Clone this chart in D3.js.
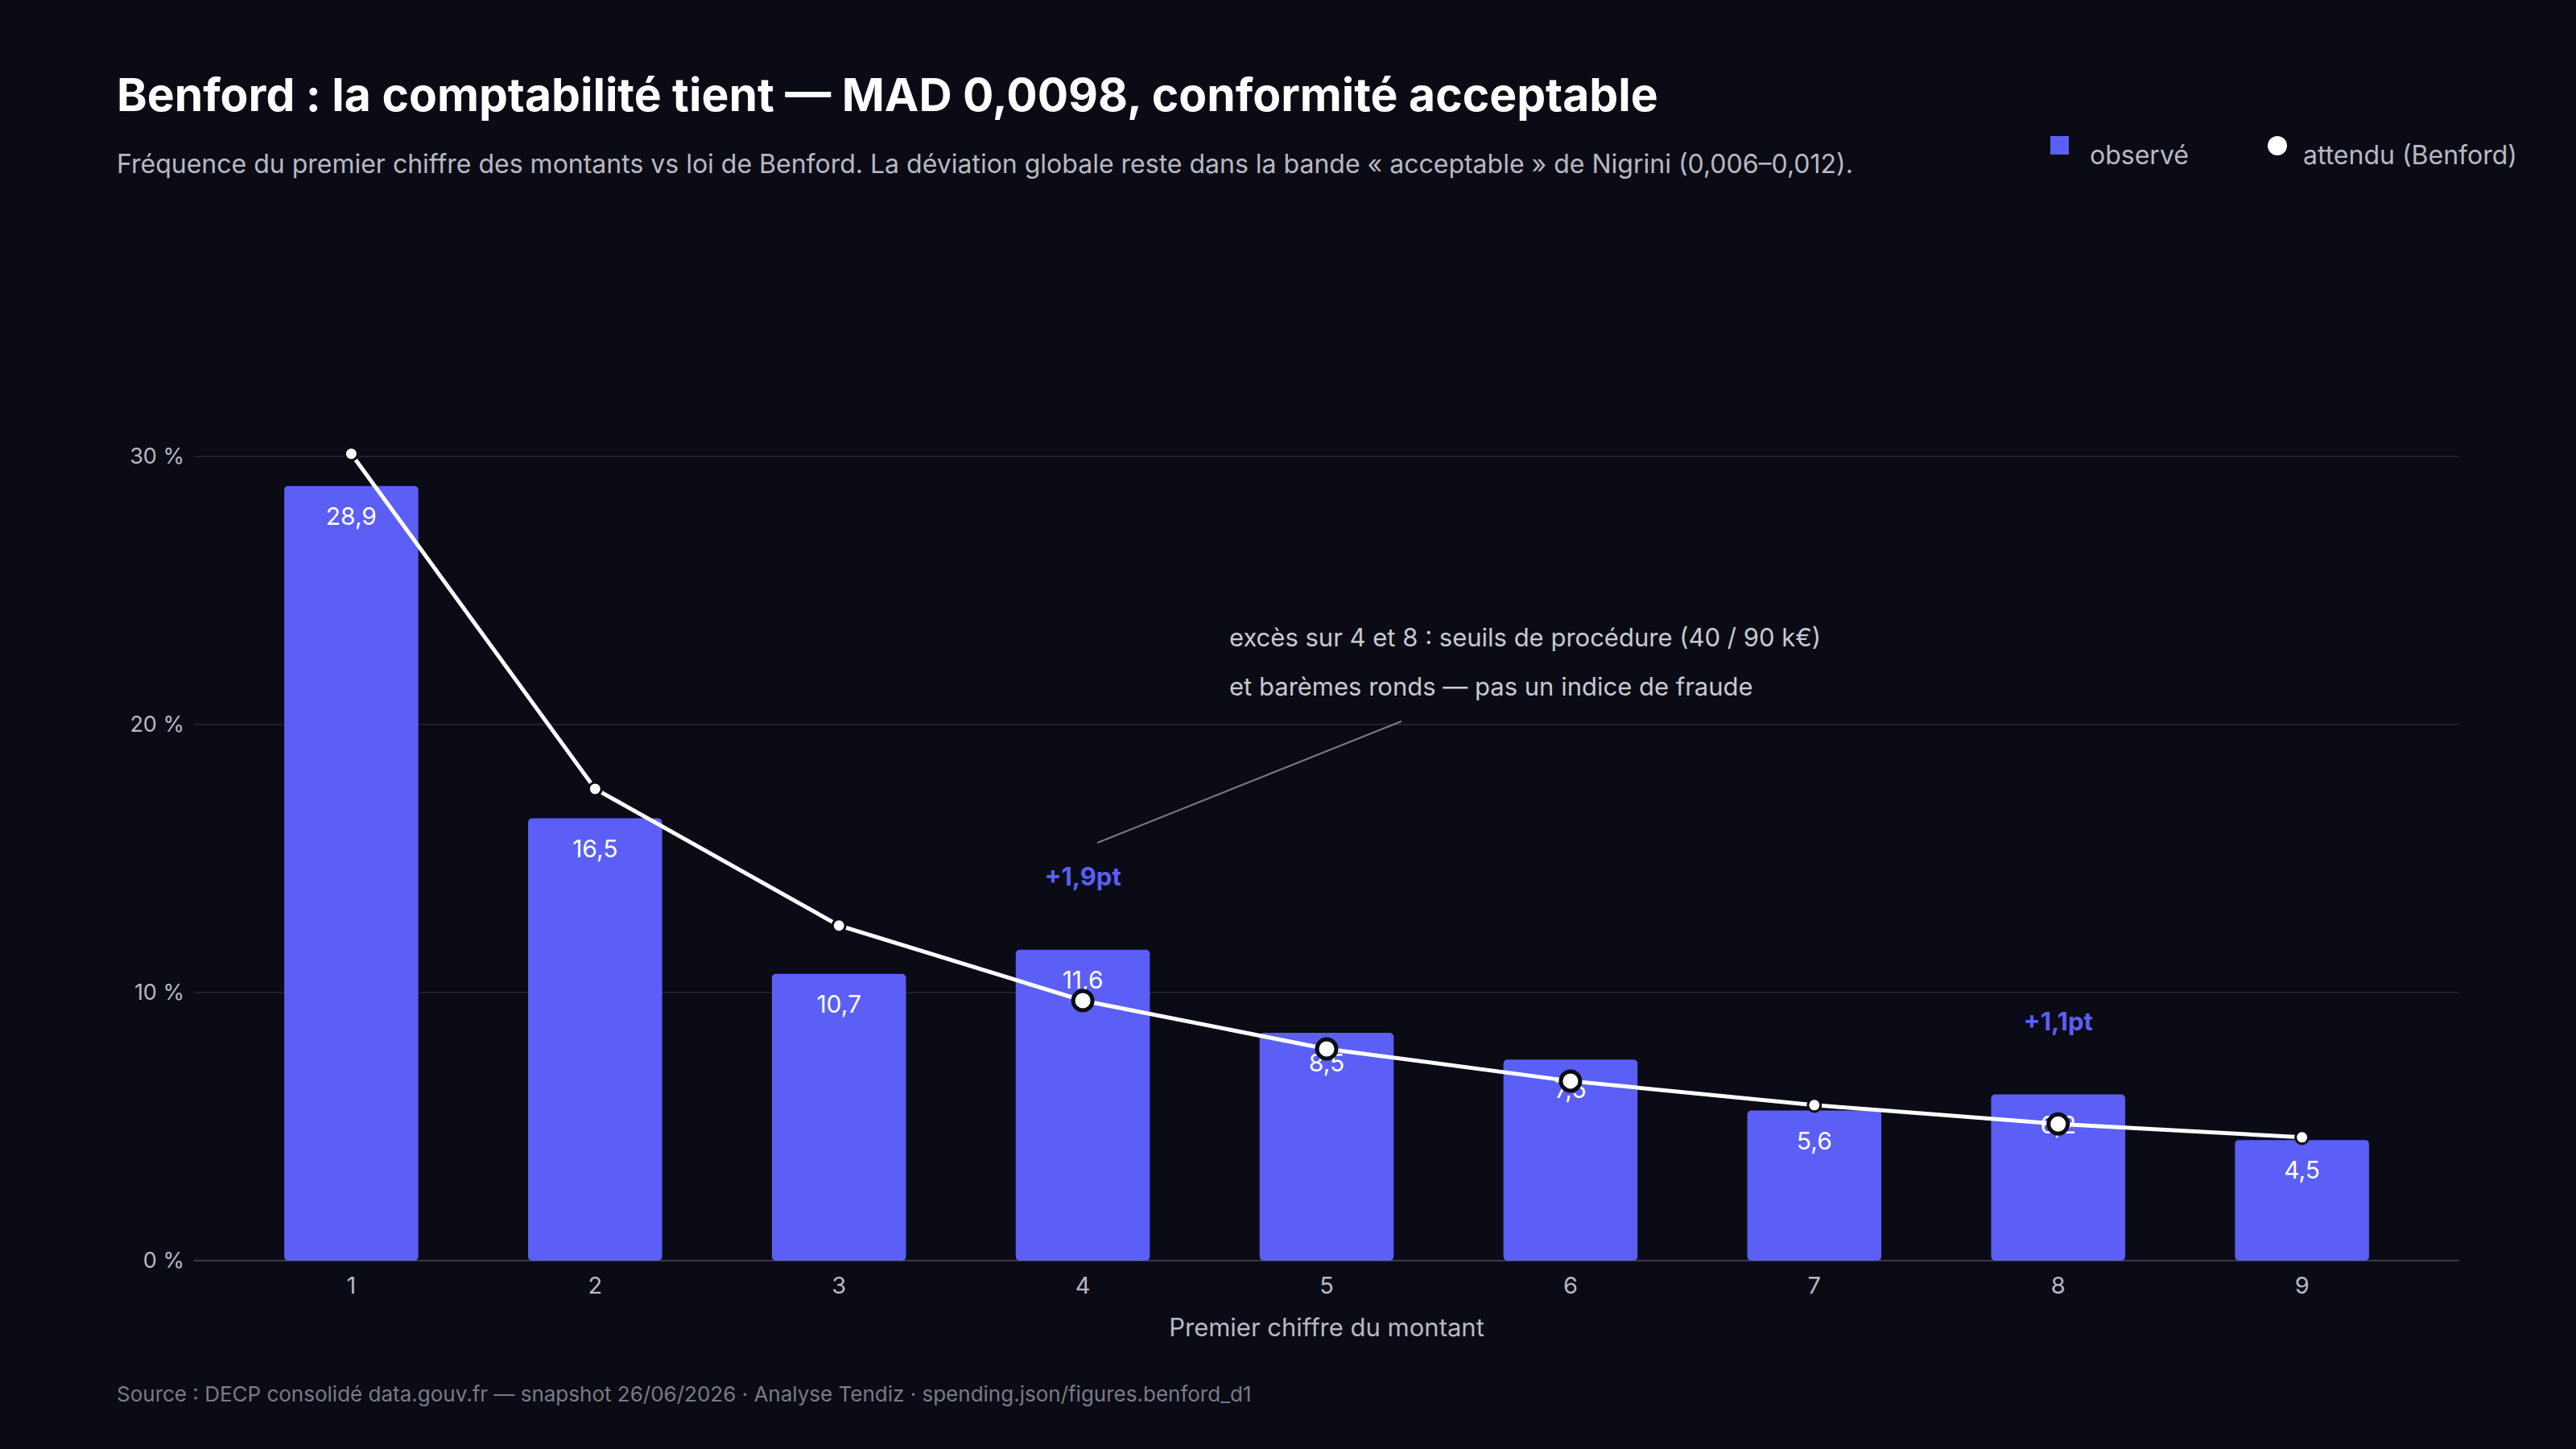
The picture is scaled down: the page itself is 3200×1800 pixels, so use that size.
<!DOCTYPE html>
<html><head><meta charset="utf-8">
<script src="https://cdn.jsdelivr.net/npm/d3@7"></script>
<style>body{margin:0;background:#0a0b14}</style>
</head><body>
<script>
var digits = ['1','2','3','4','5','6','7','8','9'];
var observed = [28.9, 16.5, 10.7, 11.6, 8.5, 7.5, 5.6, 6.2, 4.5];
var expected = [30.1, 17.6, 12.5, 9.7, 7.9, 6.7, 5.8, 5.1, 4.6];
var yTicks = [0, 10, 20, 30];
var callouts = [{digit: '4', text: '+1,9pt', at: 14}, {digit: '8', text: '+1,1pt', at: 8.6}];
var fmt = function(v){ return String(v).replace('.', ','); };

var W = 3200, H = 1800, font = 'Inter, "DejaVu Sans", sans-serif';
var svg = d3.select('body').append('svg').attr('width', W).attr('height', H)
  .style('background', '#0a0b14').style('font-family', font);

var x = d3.scaleBand().domain(digits).range([241, 3055]).paddingInner(0.45).paddingOuter(0.37);
var y = d3.scaleLinear().domain([0, 30]).range([1566, 567]);

// grid
svg.selectAll('.grid').data(yTicks).enter().append('line')
  .attr('x1', 241).attr('x2', 3055)
  .attr('y1', function(d){return y(d);}).attr('y2', function(d){return y(d);})
  .attr('stroke', function(d){return d === 0 ? '#3a3b48' : '#20212c';}).attr('stroke-width', 2);
svg.selectAll('.yl').data(yTicks).enter().append('text')
  .attr('x', 229).attr('y', function(d){return y(d) + 9;})
  .attr('text-anchor', 'end').attr('fill', '#b8b9c4').attr('font-size', 27)
  .text(function(d){return d + ' %';});

// bars
svg.selectAll('.bar').data(observed).enter().append('rect')
  .attr('x', function(d, i){return x(digits[i]);})
  .attr('y', function(d){return y(d);})
  .attr('width', x.bandwidth())
  .attr('height', function(d){return y(0) - y(d);})
  .attr('rx', 5).attr('fill', '#5b5ff5');
svg.selectAll('.bl').data(observed).enter().append('text')
  .attr('x', function(d, i){return x(digits[i]) + x.bandwidth() / 2;})
  .attr('y', function(d){return y(d) + 48;})
  .attr('text-anchor', 'middle').attr('fill', '#ffffff').attr('font-size', 30)
  .text(function(d){return fmt(d);});

// x labels
svg.selectAll('.xl').data(digits).enter().append('text')
  .attr('x', function(d){return x(d) + x.bandwidth() / 2;}).attr('y', 1607)
  .attr('text-anchor', 'middle').attr('fill', '#b8b9c4').attr('font-size', 29).text(function(d){return d;});
svg.append('text').attr('x', 1648).attr('y', 1660).attr('text-anchor', 'middle')
  .attr('fill', '#b8b9c4').attr('font-size', 31).text('Premier chiffre du montant');

// expected line
var line = d3.line().x(function(d, i){return x(digits[i]) + x.bandwidth() / 2;}).y(function(d){return y(d);});
svg.append('path').datum(expected).attr('d', line).attr('fill', 'none')
  .attr('stroke', '#ffffff').attr('stroke-width', 5);
svg.selectAll('.pt').data(expected).enter().append('circle')
  .attr('cx', function(d, i){return x(digits[i]) + x.bandwidth() / 2;})
  .attr('cy', function(d){return y(d);})
  .attr('r', function(d, i){return observed[i] > d ? 12 : 8;})
  .attr('fill', '#ffffff').attr('stroke', '#0a0b14')
  .attr('stroke-width', function(d, i){return observed[i] > d ? 5 : 3;});

// callouts
svg.selectAll('.co').data(callouts).enter().append('text')
  .attr('x', function(d){return x(d.digit) + x.bandwidth() / 2;})
  .attr('y', function(d){return y(d.at);})
  .attr('text-anchor', 'middle').attr('fill', '#5b5ff5').attr('font-size', 31).attr('font-weight', 700)
  .text(function(d){return d.text;});

// annotation
svg.append('line').attr('x1', 1741).attr('y1', 896).attr('x2', 1363).attr('y2', 1047)
  .attr('stroke', '#7a7b88').attr('stroke-width', 2);
svg.append('text').attr('x', 1527).attr('y', 803).attr('fill', '#c8c9d2').attr('font-size', 31)
  .text('excès sur 4 et 8 : seuils de procédure (40 / 90 k€)');
svg.append('text').attr('x', 1527).attr('y', 864).attr('fill', '#c8c9d2').attr('font-size', 31)
  .text('et barèmes ronds — pas un indice de fraude');

// titles
svg.append('text').attr('x', 145).attr('y', 138).attr('fill', '#ffffff').attr('font-size', 57)
  .attr('font-weight', 700).text('Benford : la comptabilité tient — MAD 0,0098, conformité acceptable');
svg.append('text').attr('x', 145).attr('y', 215).attr('fill', '#b8b9c4').attr('font-size', 32)
  .text('Fréquence du premier chiffre des montants vs loi de Benford. La déviation globale reste dans la bande « acceptable » de Nigrini (0,006–0,012).');

// legend
svg.append('rect').attr('x', 2547).attr('y', 169).attr('width', 23).attr('height', 23).attr('fill', '#5b5ff5');
svg.append('text').attr('x', 2596).attr('y', 204).attr('fill', '#b8b9c4').attr('font-size', 32).text('observé');
svg.append('circle').attr('cx', 2829).attr('cy', 181).attr('r', 12).attr('fill', '#ffffff');
svg.append('text').attr('x', 2861).attr('y', 204).attr('fill', '#b8b9c4').attr('font-size', 32).text('attendu (Benford)');

// source
svg.append('text').attr('x', 145).attr('y', 1741).attr('fill', '#7a7b88').attr('font-size', 26)
  .text('Source : DECP consolidé data.gouv.fr — snapshot 26/06/2026 · Analyse Tendiz  ·  spending.json/figures.benford_d1');
</script>
</body></html>
